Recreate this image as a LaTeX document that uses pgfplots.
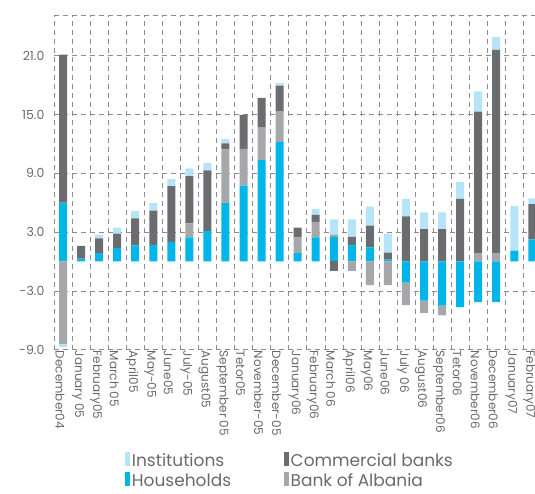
\documentclass[border=0pt]{standalone}
\usepackage{pgfplots}
\pgfplotsset{compat=1.18}
\usepackage{pgfplotstable}
\usepackage{fontspec}
\setmainfont{Poppins}

\definecolor{instblue}{HTML}{B5E3F7}
\definecolor{hhcyan}{HTML}{00B5E8}
\definecolor{cbgray}{HTML}{6B6C70}
\definecolor{boagray}{HTML}{A6A7AA}
\definecolor{gridgray}{HTML}{8C8C8C}
\definecolor{labelgray}{HTML}{6A6A6A}

% Monthly flows by sector; idx 0 = December 2004
\pgfplotstableread{
idx hh     boa    cb     inst
0    6.00  -8.40  15.10  -0.30
1    0.30   0.00   1.30   0.00
2    0.85   0.00   1.50   0.40
3    1.40   0.00   1.45   0.60
4    1.65   0.00   2.75   0.75
5    1.70   0.00   3.50   0.75
6    2.00   0.00   5.70   0.70
7    2.45   1.45   4.80   0.80
8    3.10   0.00   6.20   0.75
9    5.95   5.50   0.60   0.45
10   7.75   3.75   3.45   0.00
11  10.35   3.30   3.05   0.00
12  12.20   3.15   2.60   0.25
13   0.85   1.60   1.00   0.00
14   2.45   1.60   0.70   0.60
15   2.50   0.25  -0.95   1.55
16   1.70  -0.95   0.80   1.80
17   1.45  -2.40   2.20   1.95
18   0.20  -2.40   0.70   1.95
19  -2.15  -2.30   4.60   1.80
20  -4.00  -1.25   3.30   1.70
21  -4.50  -1.00   3.30   1.70
22  -4.65   0.00   6.40   1.70
23  -4.15   0.85  14.45   2.05
24  -4.15   0.85  20.75   1.30
25   1.10   0.00   0.00   4.55
26   2.25   0.00   3.60   0.60
}\flows

\pgfplotsset{
  seg/.style={draw=none, forget plot},
  thin swatch/.style={legend image code/.code={\fill[##1, draw=none] (0pt,-5pt) rectangle (4.5pt,9pt);}},
  % geometry shared by the positive and the negative layer
  frame/.style={
    scale only axis,
    width=487.35pt, height=334.7pt,
    xmin=-0.5, xmax=26.5,
    ymin=-9, ymax=25.15,
    ybar stacked, bar width=8pt,
  },
}

\begin{document}
\begin{tikzpicture}
% positive parts, stacked upward from zero, with grid, labels and legend
\begin{axis}[
  frame,
  axis line style={draw=none},
  xtick={0,...,26},
  xticklabels={December04, January 05, February05, March 05, April05, May-05, June05, July-05, August05, September 05, Tetor05, November-05, December-05, January06, February06, March 06, April06, May06, June06, July 06, August06, September06, Tetor06, November06, December06, January07, February07},
  minor xtick={-0.5,0.5,...,26.5},
  xminorgrids=true, xmajorgrids=false,
  ytick={-9,-3,...,21},
  extra y ticks={25.15}, extra y tick labels={},
  extra y tick style={grid=major},
  ymajorgrids=true,
  grid style={dash pattern=on 5pt off 4pt, gridgray, line width=0.5pt},
  minor grid style={dash pattern=on 5pt off 4pt, gridgray, line width=0.5pt},
  major tick length=0pt, minor tick length=0pt,
  xticklabel style={rotate=-90, anchor=west, font=\fontsize{12}{14}\selectfont, text=labelgray, inner sep=1pt, yshift=-3pt},
  yticklabel style={font=\fontsize{12.5}{14}\selectfont, text=labelgray, xshift=-6pt},
  /pgf/number format/.cd, fixed, fixed zerofill, precision=1, assume math mode=true,
  /pgfplots/.cd,
  legend style={at={(0.14,-0.297)}, anchor=north west, draw=none, fill=none,
    font=\fontsize{17}{20}\selectfont, text=labelgray, legend columns=2,
    row sep=2pt,
    /tikz/every even column/.append style={column sep=51pt}},
  legend cell align=left,
]
\addplot[seg, fill=hhcyan]   table[x=idx, y expr={max(\thisrow{hh},0)}]   {\flows};
\addplot[seg, fill=boagray]  table[x=idx, y expr={max(\thisrow{boa},0)}]  {\flows};
\addplot[seg, fill=cbgray]   table[x=idx, y expr={max(\thisrow{cb},0)}]   {\flows};
\addplot[seg, fill=instblue] table[x=idx, y expr={max(\thisrow{inst},0)}] {\flows};

\addlegendimage{thin swatch, fill=instblue}\addlegendentry{Institutions}
\addlegendimage{thin swatch, fill=cbgray}\addlegendentry{Commercial banks}
\addlegendimage{thin swatch, fill=hhcyan}\addlegendentry{Households}
\addlegendimage{thin swatch, fill=boagray}\addlegendentry{Bank of Albania}
\end{axis}
% negative parts, stacked downward from zero on the same frame
\begin{axis}[frame, hide axis]
\addplot[seg, fill=hhcyan]   table[x=idx, y expr={min(\thisrow{hh},0)}]   {\flows};
\addplot[seg, fill=boagray]  table[x=idx, y expr={min(\thisrow{boa},0)}]  {\flows};
\addplot[seg, fill=cbgray]   table[x=idx, y expr={min(\thisrow{cb},0)}]   {\flows};
\addplot[seg, fill=instblue] table[x=idx, y expr={min(\thisrow{inst},0)}] {\flows};
\end{axis}
\pgfresetboundingbox
\path ([xshift=-54pt, yshift=-143.3pt]current axis.south west)
  rectangle ([xshift=481pt, yshift=15pt]current axis.north west);
\end{tikzpicture}
\end{document}
